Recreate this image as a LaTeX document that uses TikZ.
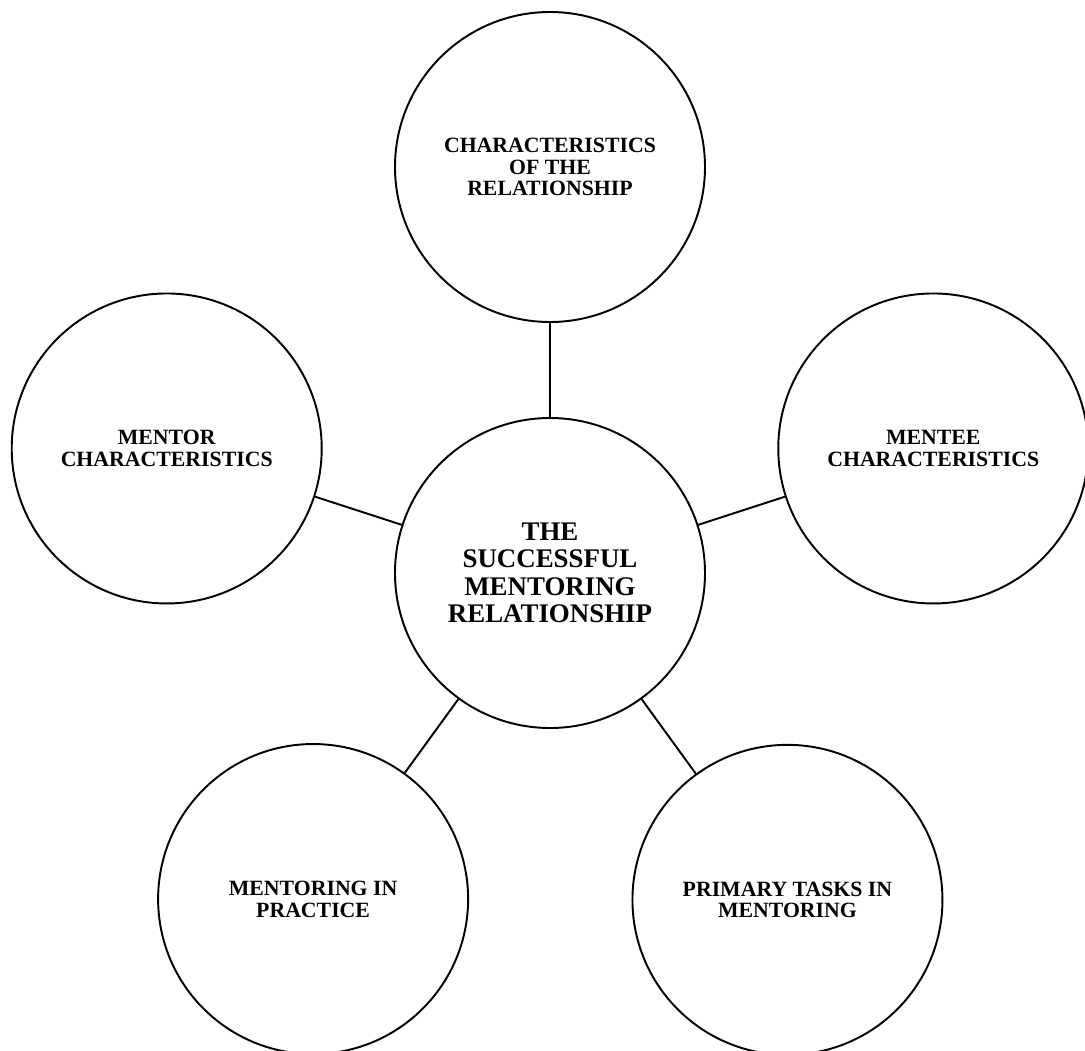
\documentclass[tikz,border=0pt]{standalone}
\usepackage{fontspec}
\setmainfont{Liberation Serif}
\usepackage{tikz}
\usetikzlibrary{positioning}

\begin{document}
\begin{tikzpicture}
% STYLES
\tikzset{%
    bubble/.style={%
    circle,
    draw,
    line width=1.1pt,
    minimum size=6.2cm,
    inner sep=0pt,
    align=center,
    font=\bfseries\fontsize{12.4}{12.4}\selectfont}
    }
\tikzset{%
    core/.style={%
    bubble,
    font=\bfseries\fontsize{15.3}{15.6}\selectfont}
    }
\useasboundingbox (-11.0,-9.54) rectangle (10.7,11.46);
% Draw bubbles
\node [core] (Success) at (0,0) {THE\\SUCCESSFUL\\MENTORING\\RELATIONSHIP};
\node [bubble] (Relation) at (90:8.12) {CHARACTERISTICS\\OF THE\\RELATIONSHIP};
\node [bubble] (Mentor) at (162:8.06) {MENTOR\\CHARACTERISTICS};
\node [bubble] (Mentee) at (18:8.06) {MENTEE\\CHARACTERISTICS};
\node [bubble] (Practice) at (234:8.06) {MENTORING IN\\PRACTICE};
\node [bubble] (Tasks) at (306:8.08) {PRIMARY TASKS IN\\MENTORING};

% Draw the links between bubbles
\path[line width=1.1pt]
(Success) edge (Relation)
(Success) edge (Mentor)
(Success) edge (Mentee)
(Success) edge (Practice)
(Success) edge (Tasks);

\end{tikzpicture}
\end{document}
